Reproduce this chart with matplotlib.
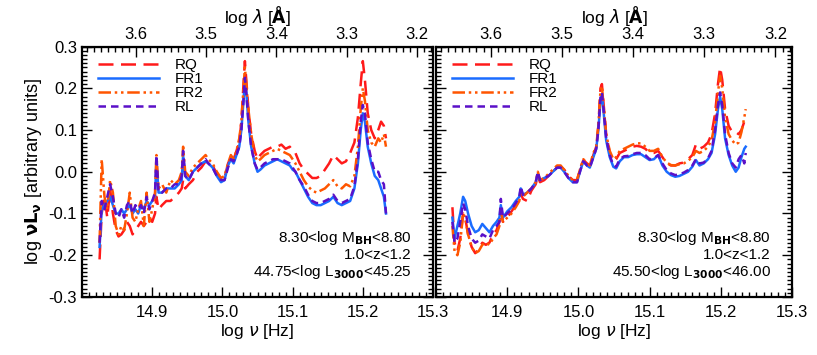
import numpy as np
import matplotlib
matplotlib.use("Agg")
import matplotlib.pyplot as plt
from matplotlib.ticker import MultipleLocator, FixedLocator

plt.rcParams['font.family'] = ['Liberation Sans', 'DejaVu Sans']
plt.rcParams['mathtext.fontset'] = 'dejavusans'
plt.rcParams['font.size'] = 12

# log nu [Hz] and log nuL_nu for each sample, left panel (44.75<log L3000<45.25)
nu_left = [14.825, 14.828, 14.832, 14.836, 14.840, 14.844, 14.848, 14.852, 14.856, 14.860,
           14.864, 14.868, 14.872, 14.876, 14.880, 14.884, 14.888, 14.892, 14.896, 14.900,
           14.904, 14.906, 14.909, 14.914, 14.920, 14.926, 14.932, 14.938, 14.942, 14.944,
           14.947, 14.952, 14.958, 14.964, 14.970, 14.976, 14.980, 14.986, 14.992, 14.998,
           15.003, 15.008, 15.012, 15.016, 15.020, 15.024, 15.027, 15.030, 15.032, 15.034,
           15.037, 15.041, 15.046, 15.050, 15.054, 15.060, 15.066, 15.072, 15.078, 15.084,
           15.090, 15.096, 15.100, 15.104, 15.110, 15.116, 15.122, 15.128, 15.134, 15.140,
           15.146, 15.152, 15.158, 15.164, 15.170, 15.176, 15.182, 15.188, 15.193, 15.197,
           15.200, 15.203, 15.207, 15.212, 15.217, 15.222, 15.226, 15.230, 15.233]
rq_left = [-0.21, -0.10, -0.06, -0.11, -0.04, -0.10, -0.14, -0.155, -0.15, -0.14,
           -0.12, -0.13, -0.15, -0.14, -0.13, -0.12, -0.13, -0.12, -0.11, -0.12,
           -0.10, -0.06, -0.09, -0.08, -0.07, -0.07, -0.06, -0.05, -0.04, -0.02,
           -0.04, -0.03, -0.02, 0.0, 0.01, 0.025, 0.02, 0.015, -0.005, -0.02,
           -0.015, 0.02, 0.035, 0.03, 0.05, 0.07, 0.12, 0.21, 0.265, 0.22,
           0.15, 0.09, 0.05, 0.03, 0.04, 0.05, 0.055, 0.06, 0.06, 0.065,
           0.055, 0.06, 0.05, 0.045, 0.02, 0.005, -0.005, -0.015, -0.015, -0.01,
           0.005, 0.02, 0.04, 0.03, 0.02, 0.025, 0.045, 0.07, 0.13, 0.21,
           0.265, 0.22, 0.14, 0.10, 0.08, 0.10, 0.12, 0.11, 0.08]
fr1_left = [-0.18, -0.09, -0.08, -0.07, -0.06, -0.08, -0.10, -0.10, -0.09, -0.10,
            -0.09, -0.08, -0.10, -0.09, -0.10, -0.08, -0.09, -0.07, -0.08, -0.07,
            -0.06, 0.03, -0.05, -0.05, -0.04, -0.04, -0.04, -0.03, -0.02, 0.04,
            -0.01, -0.02, 0.0, 0.01, 0.02, 0.025, 0.02, 0.01, -0.01, -0.025,
            -0.02, 0.015, 0.03, 0.02, 0.04, 0.06, 0.10, 0.17, 0.22, 0.19,
            0.12, 0.06, 0.02, 0.0, 0.005, 0.015, 0.02, 0.025, 0.03, 0.025,
            0.02, 0.015, 0.005, 0.0, -0.02, -0.04, -0.06, -0.075, -0.08, -0.08,
            -0.075, -0.07, -0.06, -0.075, -0.08, -0.075, -0.07, -0.04, 0.02, 0.10,
            0.14, 0.12, 0.06, 0.02, -0.01, -0.02, -0.04, -0.06, -0.10]
fr2_left = [-0.17, 0.03, -0.06, -0.09, -0.02, -0.05, -0.13, -0.15, -0.13, -0.14,
            -0.10, -0.05, -0.11, -0.12, -0.09, -0.07, -0.13, -0.05, -0.12, -0.09,
            -0.05, 0.04, -0.04, -0.03, -0.05, -0.02, -0.03, -0.02, 0.0, 0.06,
            0.0, -0.01, 0.01, 0.02, 0.03, 0.04, 0.03, 0.02, 0.0, -0.015,
            -0.01, 0.02, 0.04, 0.03, 0.05, 0.08, 0.12, 0.20, 0.25, 0.21,
            0.15, 0.09, 0.04, 0.025, 0.03, 0.04, 0.045, 0.05, 0.055, 0.05,
            0.045, 0.04, 0.03, 0.02, 0.0, -0.02, -0.035, -0.045, -0.05, -0.045,
            -0.04, -0.03, -0.02, -0.035, -0.04, -0.03, -0.035, -0.01, 0.06, 0.15,
            0.20, 0.17, 0.10, 0.07, 0.06, 0.08, 0.07, 0.09, 0.06]
rl_left = [-0.17, -0.07, -0.09, -0.06, -0.03, -0.06, -0.10, -0.11, -0.09, -0.11,
           -0.08, -0.07, -0.10, -0.08, -0.09, -0.08, -0.10, -0.06, -0.09, -0.07,
           -0.05, 0.04, -0.05, -0.05, -0.04, -0.04, -0.03, -0.03, -0.01, 0.05,
           -0.01, -0.02, 0.0, 0.01, 0.02, 0.03, 0.02, 0.01, -0.01, -0.02,
           -0.02, 0.01, 0.03, 0.025, 0.04, 0.06, 0.10, 0.17, 0.225, 0.19,
           0.12, 0.06, 0.02, 0.005, 0.01, 0.02, 0.025, 0.03, 0.03, 0.03,
           0.025, 0.02, 0.01, 0.0, -0.02, -0.035, -0.055, -0.07, -0.075, -0.075,
           -0.07, -0.065, -0.055, -0.07, -0.075, -0.07, -0.065, -0.035, 0.03, 0.12,
           0.16, 0.14, 0.07, 0.03, 0.0, 0.0, -0.02, -0.03, -0.10]

# right panel (45.50<log L3000<46.00)
nu_right = [14.823, 14.826, 14.830, 14.834, 14.838, 14.841, 14.845, 14.850, 14.855, 14.860,
            14.865, 14.870, 14.875, 14.880, 14.885, 14.889, 14.891, 14.894, 14.900, 14.906,
            14.912, 14.917, 14.919, 14.922, 14.928, 14.934, 14.940, 14.943, 14.946, 14.952,
            14.958, 14.964, 14.970, 14.975, 14.980, 14.986, 14.992, 14.998, 15.003, 15.007,
            15.012, 15.016, 15.021, 15.025, 15.028, 15.031, 15.033, 15.035, 15.039, 15.044,
            15.049, 15.053, 15.058, 15.064, 15.070, 15.076, 15.082, 15.088, 15.094, 15.100,
            15.106, 15.112, 15.118, 15.124, 15.130, 15.136, 15.142, 15.148, 15.154, 15.160,
            15.165, 15.170, 15.176, 15.182, 15.187, 15.192, 15.196, 15.199, 15.202, 15.206,
            15.211, 15.216, 15.221, 15.225, 15.229, 15.233, 15.235]
rq_right = [-0.085, -0.17, -0.19, -0.16, -0.10, -0.11, -0.15, -0.18, -0.195, -0.185,
            -0.17, -0.175, -0.17, -0.15, -0.14, -0.12, -0.09, -0.12, -0.11, -0.095,
            -0.08, -0.07, -0.05, -0.065, -0.07, -0.045, -0.03, -0.01, -0.025, -0.02,
            -0.01, 0.0, 0.01, 0.012, 0.005, -0.01, -0.02, -0.02, 0.01, 0.028,
            0.02, 0.015, 0.04, 0.06, 0.11, 0.20, 0.21, 0.17, 0.09, 0.045,
            0.025, 0.03, 0.045, 0.05, 0.055, 0.06, 0.062, 0.06, 0.055, 0.045,
            0.045, 0.05, 0.035, 0.02, 0.015, 0.015, 0.02, 0.022, 0.03, 0.04,
            0.065, 0.055, 0.06, 0.07, 0.09, 0.14, 0.21, 0.25, 0.22, 0.15,
            0.11, 0.095, 0.095, 0.09, 0.10, 0.12, 0.13]
fr1_right = [-0.11, -0.16, -0.13, -0.10, -0.06, -0.07, -0.10, -0.13, -0.145, -0.14,
             -0.125, -0.135, -0.145, -0.13, -0.12, -0.11, -0.08, -0.11, -0.095, -0.085,
             -0.07, -0.06, -0.04, -0.055, -0.05, -0.04, -0.025, -0.005, -0.02, -0.015,
             -0.01, 0.0, 0.01, 0.01, 0.0, -0.015, -0.025, -0.025, 0.005, 0.025,
             0.015, 0.01, 0.035, 0.055, 0.10, 0.17, 0.185, 0.15, 0.075, 0.035,
             0.012, 0.008, 0.025, 0.035, 0.035, 0.04, 0.042, 0.042, 0.035, 0.028,
             0.03, 0.04, 0.015, 0.0, -0.008, -0.012, -0.01, -0.005, 0.0, 0.012,
             0.028, 0.015, 0.02, 0.03, 0.045, 0.09, 0.15, 0.18, 0.15, 0.08,
             0.04, 0.015, 0.0, 0.01, 0.035, 0.055, 0.06]
fr2_right = [-0.13, -0.19, -0.20, -0.17, -0.10, -0.11, -0.15, -0.18, -0.195, -0.19,
             -0.175, -0.17, -0.175, -0.16, -0.15, -0.13, -0.09, -0.12, -0.11, -0.10,
             -0.085, -0.07, -0.045, -0.06, -0.05, -0.04, -0.025, 0.0, -0.02, -0.015,
             -0.005, 0.005, 0.015, 0.015, 0.005, -0.01, -0.02, -0.02, 0.01, 0.03,
             0.02, 0.015, 0.045, 0.06, 0.11, 0.195, 0.205, 0.165, 0.09, 0.05,
             0.03, 0.035, 0.05, 0.055, 0.06, 0.065, 0.068, 0.068, 0.06, 0.05,
             0.05, 0.055, 0.035, 0.022, 0.016, 0.015, 0.018, 0.02, 0.026, 0.035,
             0.05, 0.045, 0.05, 0.06, 0.075, 0.12, 0.19, 0.23, 0.20, 0.13,
             0.09, 0.075, 0.065, 0.07, 0.095, 0.13, 0.15]
rl_right = [-0.12, -0.17, -0.16, -0.12, -0.075, -0.09, -0.13, -0.16, -0.17, -0.165,
            -0.15, -0.155, -0.16, -0.14, -0.13, -0.12, -0.065, -0.11, -0.10, -0.09,
            -0.075, -0.06, -0.035, -0.055, -0.05, -0.04, -0.025, 0.0, -0.02, -0.015,
            -0.01, 0.0, 0.01, 0.01, 0.0, -0.015, -0.025, -0.025, 0.005, 0.025,
            0.015, 0.01, 0.035, 0.055, 0.10, 0.18, 0.19, 0.155, 0.08, 0.04,
            0.015, 0.012, 0.03, 0.037, 0.038, 0.042, 0.045, 0.045, 0.04, 0.03,
            0.032, 0.04, 0.02, 0.004, -0.004, -0.008, -0.006, -0.002, 0.004, 0.015,
            0.03, 0.02, 0.022, 0.032, 0.05, 0.10, 0.16, 0.19, 0.16, 0.09,
            0.045, 0.02, 0.01, 0.03, 0.04, 0.02, 0.045]

labels = ["RQ", "FR1", "FR2", "RL"]
colors = ["#ff1a1a", "#1a6cff", "#ff5500", "#5a10c8"]
styles = [(0, (6, 3)), "-", (0, (5, 1.5, 1, 1.5, 1, 1.5)), (0, (3, 2))]

panels = [
    (nu_left, [rq_left, fr1_left, fr2_left, rl_left], "44.75<log L$_{\\mathbf{3000}}$<45.25"),
    (nu_right, [rq_right, fr1_right, fr2_right, rl_right], "45.50<log L$_{\\mathbf{3000}}$<46.00"),
]

LOGC = np.log10(2.99792458e18)  # log c in Angstrom/s

fig = plt.figure(figsize=(8.17, 3.55), dpi=100)
axes = [fig.add_axes([0.1004, 0.1634, 0.4296, 0.7056]),
        fig.add_axes([0.5337, 0.1634, 0.4357, 0.7056])]

for i, (ax, (nu, series, lumtxt)) in enumerate(zip(axes, panels)):
    for y, lab, c, ls in zip(series, labels, colors, styles):
        ax.plot(nu, y, color=c, ls=ls, lw=1.8, label=lab)
    ax.set_xlim(14.8, 15.3)
    ax.set_ylim(-0.3, 0.3)
    ax.xaxis.set_major_locator(FixedLocator([14.9, 15.0, 15.1, 15.2, 15.3]))
    ax.xaxis.set_minor_locator(MultipleLocator(0.01))
    ax.yaxis.set_major_locator(MultipleLocator(0.1))
    ax.yaxis.set_minor_locator(MultipleLocator(0.01))
    ax.xaxis.set_major_formatter(plt.FuncFormatter(lambda v, p: f"{v:.1f}"))
    ax.tick_params(which="both", direction="in", right=True, width=1.0, labelsize=12)
    ax.tick_params(which="major", length=7)
    ax.tick_params(which="minor", length=3.5)
    ax.tick_params(axis="x", which="both", top=False, pad=6)
    for sp in ax.spines.values():
        sp.set_linewidth(1.6)
    ax.set_xlabel(r"log $\nu$ [Hz]", fontsize=12.5, labelpad=1)
    if i == 0:
        ax.yaxis.set_major_formatter(plt.FuncFormatter(lambda v, p: f"{v:.1f}"))
        ax.set_ylabel(r"log $\mathbf{\nu L_{\nu}}$ [arbitrary units]", fontsize=13, labelpad=3)
    else:
        ax.set_yticklabels([])

    top = ax.secondary_xaxis("top", functions=(lambda x: LOGC - x, lambda x: LOGC - x))
    top.xaxis.set_major_locator(FixedLocator([3.6, 3.5, 3.4, 3.3, 3.2]))
    top.xaxis.set_minor_locator(MultipleLocator(0.01))
    top.xaxis.set_major_formatter(plt.FuncFormatter(lambda v, p: f"{v:.1f}"))
    top.tick_params(which="both", direction="in", width=1.0, labelsize=12, pad=3)
    top.tick_params(which="major", length=7)
    top.tick_params(which="minor", length=3.5)
    top.set_xlabel(r"log $\lambda$ [$\mathbf{\AA}$]", fontsize=12.5, labelpad=3)

    ax.legend(loc="upper left", bbox_to_anchor=(0.02, 0.99), frameon=False,
              handlelength=4.0, handletextpad=1.0, labelspacing=0.0,
              borderaxespad=0.2, fontsize=11)

    ax.text(0.94, 0.235, "8.30<log M$_{\\mathbf{BH}}$<8.80", transform=ax.transAxes,
            ha="right", va="center", fontsize=11)
    ax.text(0.94, 0.168, "1.0<z<1.2", transform=ax.transAxes, ha="right", va="center",
            fontsize=11)
    ax.text(0.94, 0.098, lumtxt, transform=ax.transAxes, ha="right", va="center",
            fontsize=11)

fig.savefig("out.png", dpi=100)
